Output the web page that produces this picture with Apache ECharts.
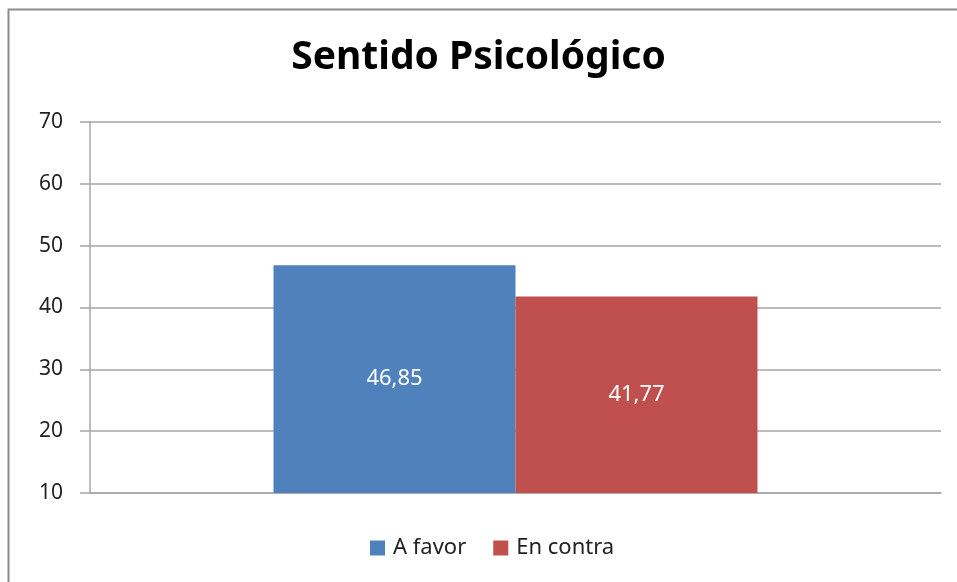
<!DOCTYPE html>
<html>
<head>
<meta charset="utf-8">
<script src="https://cdn.jsdelivr.net/npm/echarts@6/dist/echarts.min.js"></script>
<style>html,body{margin:0;padding:0;background:#fff}#main{width:957px;height:582px}</style>
</head>
<body>
<div id="main"></div>
<script>
const titleText = 'Sentido Psicológico';
const categories = [''];
const seriesNames = ['A favor', 'En contra'];
const aFavor = [46.85];
const enContra = [41.77];
const yTicks = [10, 20, 30, 40, 50, 60, 70];

const chart = echarts.init(document.getElementById('main'));
const font = '"Noto Sans", sans-serif';
const lbl = {
  show: true, position: 'inside', color: '#fff', fontSize: 22, fontFamily: font,
  formatter: p => p.value.toFixed(2).replace('.', ',')
};
chart.setOption({
  animation: false,
  graphic: [{
    type: 'rect', shape: { x: 8.5, y: 9.5, width: 1000, height: 1000 },
    style: { fill: 'none', stroke: '#8c8c8c', lineWidth: 2 }
  }],
  title: {
    text: titleText, left: 'center', top: 33,
    textStyle: { fontFamily: font, fontWeight: 'bold', fontSize: 39, color: '#000' }
  },
  legend: {
    bottom: 18, left: 365, itemWidth: 15, itemHeight: 15, itemGap: 27,
    icon: 'rect',
    textStyle: { fontFamily: font, fontSize: 22, color: '#222', padding: [0, 0, 0, 3] },
    data: seriesNames
  },
  grid: { left: 90, right: 16, top: 122, bottom: 89 },
  xAxis: {
    type: 'category', data: categories,
    axisLine: { lineStyle: { color: '#a6a6a6', width: 1.5 } },
    axisTick: { show: false }, axisLabel: { show: false }
  },
  yAxis: {
    type: 'value', min: yTicks[0], max: yTicks[yTicks.length - 1], interval: 10,
    axisLine: { show: true, lineStyle: { color: '#a6a6a6', width: 1.5 } },
    axisTick: { show: true, length: 10, lineStyle: { color: '#a6a6a6', width: 1.5 } },
    axisLabel: { fontFamily: font, fontSize: 21, color: '#222', margin: 27 },
    splitLine: { lineStyle: { color: '#a6a6a6', width: 1.5 } }
  },
  series: [
    { name: seriesNames[0], type: 'bar', data: aFavor, barWidth: 242, barGap: '0%',
      itemStyle: { color: '#4f81bd' }, label: lbl },
    { name: seriesNames[1], type: 'bar', data: enContra, barWidth: 242, barGap: '0%',
      itemStyle: { color: '#c0504d' }, label: lbl }
  ]
});
</script>
</body>
</html>
